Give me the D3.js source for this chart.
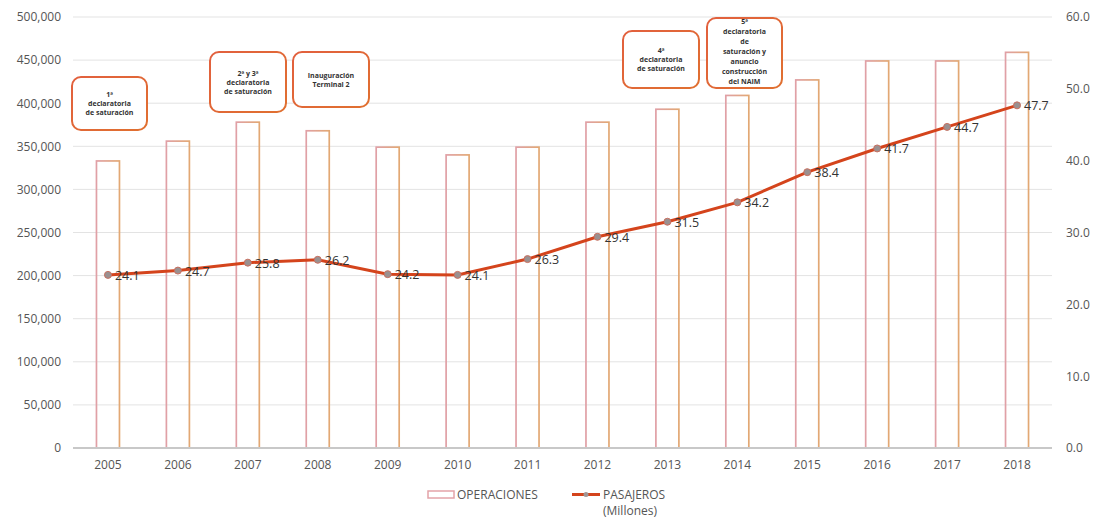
<!DOCTYPE html>
<html><head><meta charset="utf-8">
<script src="https://cdn.jsdelivr.net/npm/d3@7"></script>
<style>body{margin:0;background:#fff;} text{font-family:"Open Sans",Lato,sans-serif;}</style>
</head><body><svg id="c" width="1095" height="519"></svg>
<script>
const years = ["2005","2006","2007","2008","2009","2010","2011","2012","2013","2014","2015","2016","2017","2018"];
const operaciones = [333000,356000,378000,368000,349000,340000,349000,378000,393000,409000,427000,449000,449000,459000];
const pasajeros = [24.1,24.7,25.8,26.2,24.2,24.1,26.3,29.4,31.5,34.2,38.4,41.7,44.7,47.7];
const leftTicks = [0,50000,100000,150000,200000,250000,300000,350000,400000,450000,500000];
const rightTicks = [0,10,20,30,40,50,60];
const annotations = [
  {year:"2005", lines:["1ª","declaratoria","de saturación"]},
  {year:"2007", lines:["2ª y 3ª","declaratoria","de saturación"]},
  {year:"2008", lines:["Inauguración","Terminal 2"]},
  {year:"2013", lines:["4ª","declaratoria","de saturación"]},
  {year:"2014", lines:["5ª","declaratoria","de","saturación y","anuncio","construcción","del NAIM"]}
];
const annoBoxes = [
  {x:72,y:77,w:75,h:53},
  {x:210,y:52,w:76,h:60},
  {x:293,y:52,w:76,h:55},
  {x:623,y:31,w:76,h:57},
  {x:707,y:18,w:75,h:70}
];

const svg = d3.select("#c");
const L = 73, R = 1052, T = 17, B = 448;
const x = d3.scaleBand().domain(years).range([L,R]).paddingInner(0).paddingOuter(0);
const yL = d3.scaleLinear().domain([0,500000]).range([B,T]);
const yR = d3.scaleLinear().domain([0,60]).range([B,T]);

const defs = svg.append("defs");
const g = defs.append("linearGradient").attr("id","barg").attr("x1","0").attr("x2","1").attr("y1","0").attr("y2","0");
g.append("stop").attr("offset","0").attr("stop-color","#e0a0a6");
g.append("stop").attr("offset","1").attr("stop-color","#e2a874");
const ga = defs.append("linearGradient").attr("id","annog").attr("x1","0").attr("x2","1").attr("y1","0").attr("y2","1");
ga.append("stop").attr("offset","0").attr("stop-color","#e2603e");
ga.append("stop").attr("offset","1").attr("stop-color","#e07030");

// gridlines
svg.append("g").selectAll("line").data(leftTicks.slice(1)).join("line")
  .attr("x1",L).attr("x2",R).attr("y1",d=>yL(d)).attr("y2",d=>yL(d))
  .attr("stroke","#e3e3e3").attr("stroke-width",1);

// left axis
const ax = d3.axisLeft(yL).tickValues(leftTicks).tickFormat(d3.format(",")).tickSize(0).tickPadding(10);
const gl = svg.append("g").attr("transform",`translate(${L},0)`).call(ax);
gl.select(".domain").remove();
gl.selectAll("text").attr("font-size",12).attr("fill","#555").attr("dx",-2);

const ar = d3.axisRight(yR).tickValues(rightTicks).tickFormat(d3.format(".1f")).tickSize(0).tickPadding(14);
const gr = svg.append("g").attr("transform",`translate(${R},0)`).call(ar);
gr.select(".domain").remove();
gr.selectAll("text").attr("font-size",12).attr("fill","#555");

// bars
const bw = 23;
svg.append("g").selectAll("rect").data(years).join("rect")
  .attr("x",(d)=>x(d)+x.bandwidth()/2-bw/2)
  .attr("y",(d,i)=>yL(operaciones[i]))
  .attr("width",bw)
  .attr("height",(d,i)=>B-yL(operaciones[i]))
  .attr("fill","none").attr("stroke","url(#barg)").attr("stroke-width",1.7);

// baseline
svg.append("line").attr("x1",L).attr("x2",R).attr("y1",B).attr("y2",B).attr("stroke","#c8c8c8").attr("stroke-width",2);

// x axis
const axb = d3.axisBottom(x).tickSize(0).tickPadding(12);
const gb = svg.append("g").attr("transform",`translate(0,${B})`).call(axb);
gb.select(".domain").remove();
gb.selectAll("text").attr("font-size",12).attr("fill","#555");

// line
const cx = d=>x(d)+x.bandwidth()/2;
const line = d3.line().x((d,i)=>cx(years[i])).y(d=>yR(d));
svg.append("path").datum(pasajeros).attr("d",line).attr("fill","none").attr("stroke","#d4441c").attr("stroke-width",3);
svg.append("g").selectAll("circle").data(pasajeros).join("circle")
  .attr("cx",(d,i)=>cx(years[i])).attr("cy",d=>yR(d)).attr("r",3.5)
  .attr("fill","#9a9090").attr("stroke","#c87060").attr("stroke-width",1);
svg.append("g").selectAll("text").data(pasajeros).join("text")
  .attr("x",(d,i)=>cx(years[i])+7).attr("y",d=>yR(d)+5)
  .attr("font-size",12.5).attr("fill","#333").text(d=>d.toFixed(1));

// annotations
annotations.forEach((a,i)=>{
  const b = annoBoxes[i];
  const ag = svg.append("g");
  ag.append("rect").attr("x",b.x).attr("y",b.y).attr("width",b.w).attr("height",b.h).attr("rx",9)
    .attr("fill","#fff").attr("stroke","url(#annog)").attr("stroke-width",2);
  const lh = i===4 ? 10 : 9;
  const n = a.lines.length;
  const cy = b.y + b.h/2;
  const startY = (i===4) ? b.y + 6 : cy - (n-1)*lh/2 + 2.5;
  a.lines.forEach((t,j)=>{
    ag.append("text").attr("x",b.x+b.w/2).attr("y",startY + j*lh).attr("text-anchor","middle")
      .attr("font-size",7).attr("font-weight","bold").attr("fill","#333").text(t);
  });
});

// legend
svg.append("rect").attr("x",428).attr("y",491).attr("width",26).attr("height",7).attr("fill","none").attr("stroke","#e3a3a8").attr("stroke-width",1.5);
svg.append("text").attr("x",457).attr("y",499).attr("font-size",12).attr("fill","#555").text("OPERACIONES");
svg.append("line").attr("x1",572).attr("x2",600).attr("y1",494.5).attr("y2",494.5).attr("stroke","#d4441c").attr("stroke-width",3);
svg.append("circle").attr("cx",586).attr("cy",494.5).attr("r",2.5).attr("fill","#a09696");
svg.append("text").attr("x",603).attr("y",499).attr("font-size",12).attr("fill","#555").text("PASAJEROS");
svg.append("text").attr("x",603).attr("y",515).attr("font-size",12).attr("fill","#555").text("(Millones)");
</script></body></html>
